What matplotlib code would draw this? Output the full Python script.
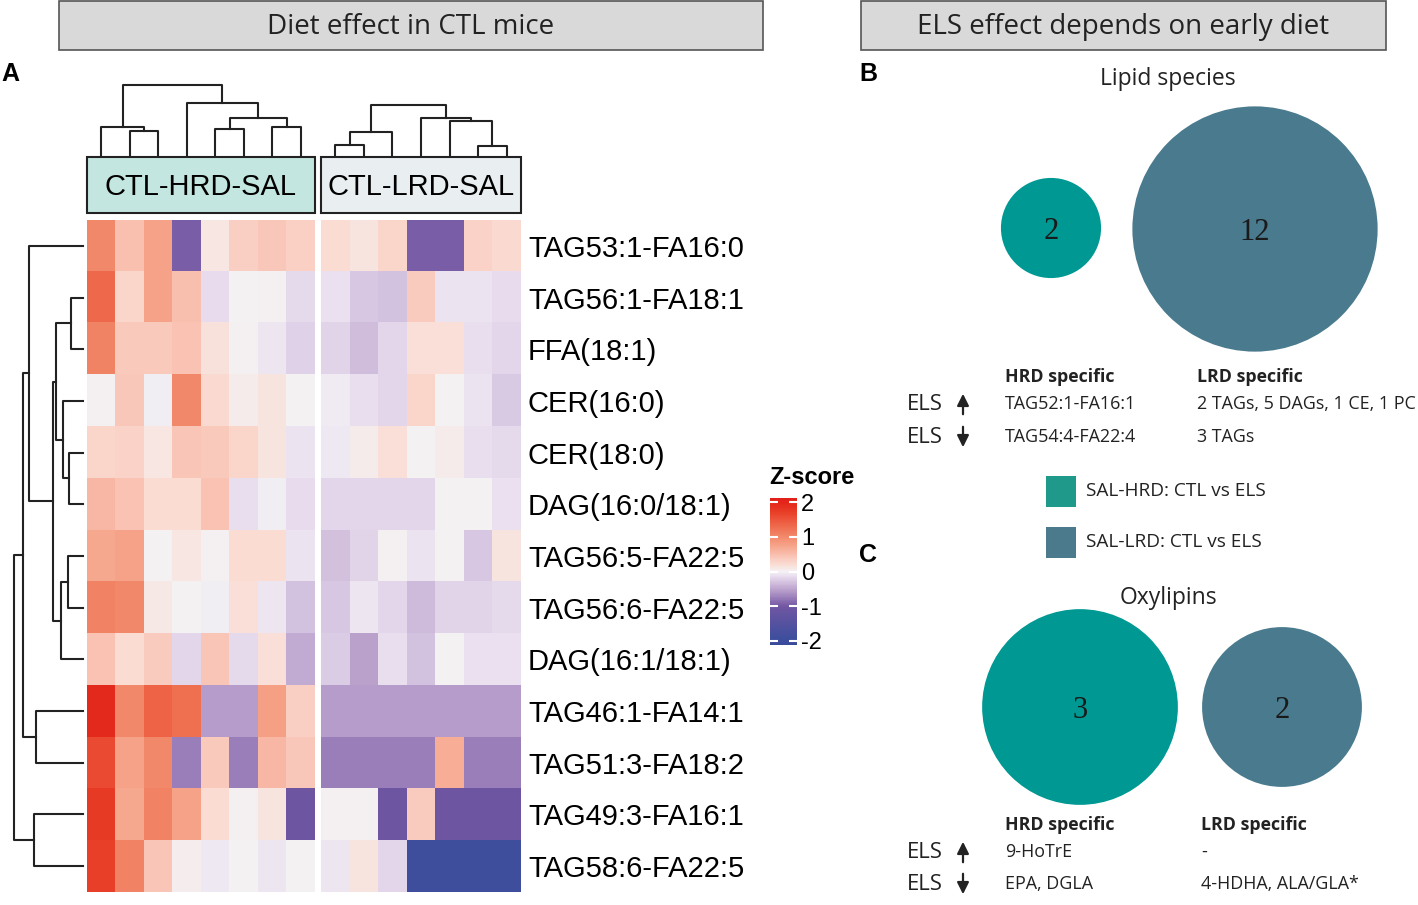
import numpy as np
import matplotlib.pyplot as plt
from matplotlib.colors import LinearSegmentedColormap, Normalize
from matplotlib.patches import Circle, Rectangle
import matplotlib.cm as cm

plt.rcParams['axes.unicode_minus'] = False

# data

lipids = ["TAG53:1-FA16:0", "TAG56:1-FA18:1", "FFA(18:1)", "CER(16:0)", "CER(18:0)",
          "DAG(16:0/18:1)", "TAG56:5-FA22:5", "TAG56:6-FA22:5", "DAG(16:1/18:1)",
          "TAG46:1-FA14:1", "TAG51:3-FA18:2", "TAG49:3-FA16:1", "TAG58:6-FA22:5"]
groups = ["CTL-HRD-SAL", "CTL-LRD-SAL"]

z_hrd = np.array([
    [1.00, 0.48, 0.75, -0.95, 0.10, 0.34, 0.40, 0.33],
    [1.32, 0.27, 0.75, 0.49, -0.14, 0.00, 0.03, -0.16],
    [1.06, 0.39, 0.39, 0.45, 0.15, 0.03, -0.07, -0.20],
    [0.03, 0.40, -0.02, 1.00, 0.22, 0.05, 0.13, 0.00],
    [0.27, 0.30, 0.10, 0.42, 0.39, 0.27, 0.12, -0.09],
    [0.56, 0.45, 0.20, 0.20, 0.45, -0.13, -0.02, -0.14],
    [0.71, 0.75, 0.00, 0.10, 0.03, 0.20, 0.20, -0.09],
    [1.07, 1.00, 0.09, 0.00, -0.02, 0.17, -0.07, -0.30],
    [0.45, 0.20, 0.38, -0.17, 0.42, -0.16, 0.17, -0.45],
    [1.95, 1.00, 1.38, 1.26, -0.55, -0.55, 0.79, 0.34],
    [1.60, 0.75, 1.00, -0.75, 0.39, -0.75, 0.56, 0.40],
    [1.75, 0.71, 1.07, 0.75, 0.20, 0.02, 0.13, -1.05],
    [1.70, 1.07, 0.42, 0.04, -0.05, 0.00, -0.07, 0.00],
])

z_lrd = np.array([
    [0.20, 0.12, 0.27, -0.95, -0.95, 0.30, 0.23],
    [-0.10, -0.27, -0.30, 0.38, -0.09, -0.09, -0.14],
    [-0.19, -0.34, -0.18, 0.17, 0.17, -0.13, -0.18],
    [-0.04, -0.12, -0.17, 0.27, 0.00, -0.09, -0.25],
    [-0.05, 0.05, 0.17, 0.00, 0.05, -0.13, -0.16],
    [-0.17, -0.17, -0.17, -0.17, 0.00, 0.00, -0.10],
    [-0.32, -0.19, 0.02, -0.09, 0.00, -0.27, 0.13],
    [-0.27, -0.07, -0.17, -0.36, -0.19, -0.19, -0.16],
    [-0.24, -0.53, -0.13, -0.30, 0.00, -0.10, -0.10],
    [-0.55, -0.55, -0.55, -0.55, -0.55, -0.55, -0.55],
    [-0.75, -0.75, -0.75, -0.75, 0.65, -0.75, -0.75],
    [0.03, 0.03, -1.05, 0.38, -1.05, -1.05, -1.05],
    [-0.08, 0.13, -0.17, -1.90, -1.90, -1.90, -1.90],
])

# linkage: (child a, child b, height), new clusters numbered from n upward
link_hrd = [(1, 2, 24), (0, 8, 28), (4, 5, 26), (6, 7, 28), (10, 11, 37), (3, 12, 52), (9, 13, 70)]
link_lrd = [(0, 1, 10), (7, 2, 23), (5, 6, 9), (4, 9, 34), (3, 10, 37), (8, 11, 50)]
link_rows = [(1, 2, 11.7), (4, 5, 14.3), (3, 14, 20), (6, 7, 15), (16, 8, 22.3), (13, 15, 26.7),
             (18, 17, 30.3), (0, 19, 54.3), (9, 10, 46.7), (20, 21, 60), (11, 12, 49.3), (22, 23, 69.3)]

lipid_counts = [2, 12]
oxylipin_counts = [3, 2]
legend_labels = ["SAL-HRD: CTL vs ELS", "SAL-LRD: CTL vs ELS"]
table_cols = ["HRD specific", "LRD specific"]
lipid_up = ["TAG52:1-FA16:1", "2 TAGs, 5 DAGs, 1 CE, 1 PC"]
lipid_down = ["TAG54:4-FA22:4", "3 TAGs"]
oxy_up = ["9-HoTrE", "-"]
oxy_down = ["EPA, DGLA", "4-HDHA, ALA/GLA*"]

cbar_ticks = [-2, -1, 0, 1, 2]

W, H = 1418, 905
fig = plt.figure(figsize=(W / 100, H / 100), dpi=100)

SANS = "Liberation Sans"
MYR = "Open Sans"


def px_axes(x0, y0, x1, y1):
    return fig.add_axes([x0 / W, 1 - y1 / H, (x1 - x0) / W, (y1 - y0) / H])


def dendro_segments(links, n):
    pos = {i: i + 0.5 for i in range(n)}
    hgt = {i: 0.0 for i in range(n)}
    segs = []
    for k, (a, b, h) in enumerate(links):
        segs.append(([pos[a], pos[a], pos[b], pos[b]], [hgt[a], h, h, hgt[b]]))
        pos[n + k] = (pos[a] + pos[b]) / 2
        hgt[n + k] = h
    return segs


vmax = 2.13
cmap_nodes = [(-2.13, "#3A4A9B"), (-1.9, "#404E9E"), (-1.05, "#6E56A2"), (-0.95, "#7B5EA7"),
              (-0.75, "#9C80BB"), (-0.55, "#B89ECB"), (-0.3, "#D5C4E0"), (-0.14, "#E8DCEE"),
              (0.0, "#F4F2F5"), (0.2, "#FADDD3"), (0.34, "#FACFC4"), (0.48, "#F9C0B0"),
              (0.75, "#F6A48A"), (1.0, "#F28A6C"), (1.32, "#EF6A4C"), (1.75, "#E83C25"),
              (2.0, "#E3261A"), (2.13, "#E2201A")]
cmap = LinearSegmentedColormap.from_list(
    "zs", [((v + vmax) / (2 * vmax), c) for v, c in cmap_nodes])
norm = Normalize(vmin=-vmax, vmax=vmax)

# heatmaps
ax_h = px_axes(87, 220, 315, 892)
ax_l = px_axes(321, 220, 521, 892)
for ax, z in [(ax_h, z_hrd), (ax_l, z_lrd)]:
    ax.imshow(z, cmap=cmap, norm=norm, aspect="auto", interpolation="nearest",
              extent=(0, z.shape[1], len(lipids), 0))
    ax.set_xticks([])
    ax.set_yticks([])
    for s in ax.spines.values():
        s.set_visible(False)
ax_l.yaxis.tick_right()
ax_l.set_yticks(np.arange(len(lipids)) + 0.5)
ax_l.set_yticklabels(lipids, fontsize=21, family=SANS)
ax_l.tick_params(axis="y", length=0, pad=5)

# column dendrograms
for x0, x1, links, n in [(87, 315, link_hrd, 8), (321, 521, link_lrd, 7)]:
    ax = px_axes(x0, 82, x1, 155)
    for xs, ys in dendro_segments(links, n):
        ax.plot(xs, ys, color="#222222", lw=1.5, clip_on=False)
    ax.set_xlim(0, n)
    ax.set_ylim(0, 73)
    ax.axis("off")

# row dendrogram
ax_r = px_axes(10, 220, 83, 892)
for ys, xs in dendro_segments(link_rows, len(lipids)):
    ax_r.plot(xs, ys, color="#222222", lw=1.5, clip_on=False)
ax_r.set_ylim(len(lipids), 0)
ax_r.set_xlim(73, 0)
ax_r.axis("off")

# colorbar
cax = px_axes(770, 498, 797, 645)
cb = fig.colorbar(cm.ScalarMappable(norm=norm, cmap=cmap), cax=cax, ticks=cbar_ticks)
cb.outline.set_visible(False)
cax.tick_params(direction="in", color="white", length=6, width=1.5, left=True, right=True,
                labelsize=17, pad=3)
for t in cax.get_yticklabels():
    t.set_family(SANS)

# overlay in pixel coordinates
ov = fig.add_axes([0, 0, 1, 1], zorder=-1)
ov.set_xlim(0, W)
ov.set_ylim(H, 0)
ov.axis("off")

ov.text(812, 477, "Z-score", fontsize=17, fontweight="bold", family=SANS, ha="center", va="center")

# title boxes
for x0, x1, label in [(59, 763, "Diet effect in CTL mice"), (861, 1386, "ELS effect depends on early diet")]:
    ov.add_patch(Rectangle((x0, 1), x1 - x0, 49, facecolor="#D9D9D9", edgecolor="#555555", lw=1.2))
    ov.text((x0 + x1) / 2, 27, label, fontsize=20, family=MYR, ha="center", va="center", color="#222222")

# group boxes
for (x0, x1), label, col in zip([(87, 315), (321, 521)], groups, ["#C4E6E0", "#E9EEF1"]):
    ov.add_patch(Rectangle((x0, 157), x1 - x0, 56, facecolor=col, edgecolor="#222222", lw=1.5))
    ov.text((x0 + x1) / 2, 187, label, fontsize=21, family=SANS, ha="center", va="center")

# panel letters
for x, y, letter in [(10, 74, "A"), (868, 74, "B"), (868, 555, "C")]:
    ov.text(x, y, letter, fontsize=18, fontweight="bold", family=SANS, ha="center", va="center")

teal = "#009893"
slate = "#497A8D"

# B: lipid species
ov.text(1168, 79, "Lipid species", fontsize=16.5, family=MYR, ha="center", va="center", color="#222222")
kb = 35.4
for (cx, cy), n, col in zip([(1051, 228), (1255, 229)], lipid_counts, [teal, slate]):
    ov.add_patch(Circle((cx, cy), kb * np.sqrt(n), color=col, lw=0))
    ov.text(cx, cy + 3, str(n), fontsize=22, family="Liberation Serif", ha="center", va="center", color="#1a1a1a")

# C: oxylipins
ov.text(1168, 598, "Oxylipins", fontsize=16.5, family=MYR, ha="center", va="center", color="#222222")
kc = 56.5
for (cx, cy), n, col in zip([(1080, 707), (1282, 707)], oxylipin_counts, [teal, slate]):
    ov.add_patch(Circle((cx, cy), kc * np.sqrt(n), color=col, lw=0))
    ov.text(cx, cy + 3, str(n), fontsize=22, family="Liberation Serif", ha="center", va="center", color="#1a1a1a")

# legend
for y, label, col in zip([476, 527], legend_labels, ["#1F9A8A", "#4B7A8C"]):
    ov.add_patch(Rectangle((1046, y), 30, 31, facecolor=col, lw=0))
    ov.text(1086, y + 15, label, fontsize=13.7, family=MYR, ha="left", va="center", color="#222222")


def els_table(y_head, y_up, y_down, xcols, up, down):
    for x, head in zip(xcols, table_cols):
        ov.text(x, y_head, head, fontsize=12.8, fontweight="bold", family=MYR, ha="left", va="center",
                color="#222222")
    for y, row, arrow in [(y_up, up, (y_up + 13, y_up - 13)), (y_down, down, (y_down - 13, y_down + 13))]:
        ov.text(907, y, "ELS", fontsize=16, family=MYR, ha="left", va="center", color="#222222")
        ov.annotate("", xy=(963, arrow[1]), xytext=(963, arrow[0]),
                    arrowprops=dict(arrowstyle="-|>,head_length=0.7,head_width=0.35", color="#222222", lw=1.6))
        for x, txt in zip(xcols, row):
            ov.text(x, y, txt, fontsize=12.9, family=MYR, ha="left", va="center", color="#222222")


els_table(377, 404, 437, [1005, 1197], lipid_up, lipid_down)
els_table(825, 852, 884, [1005, 1201], oxy_up, oxy_down)

fig.savefig("out.png", dpi=100)
